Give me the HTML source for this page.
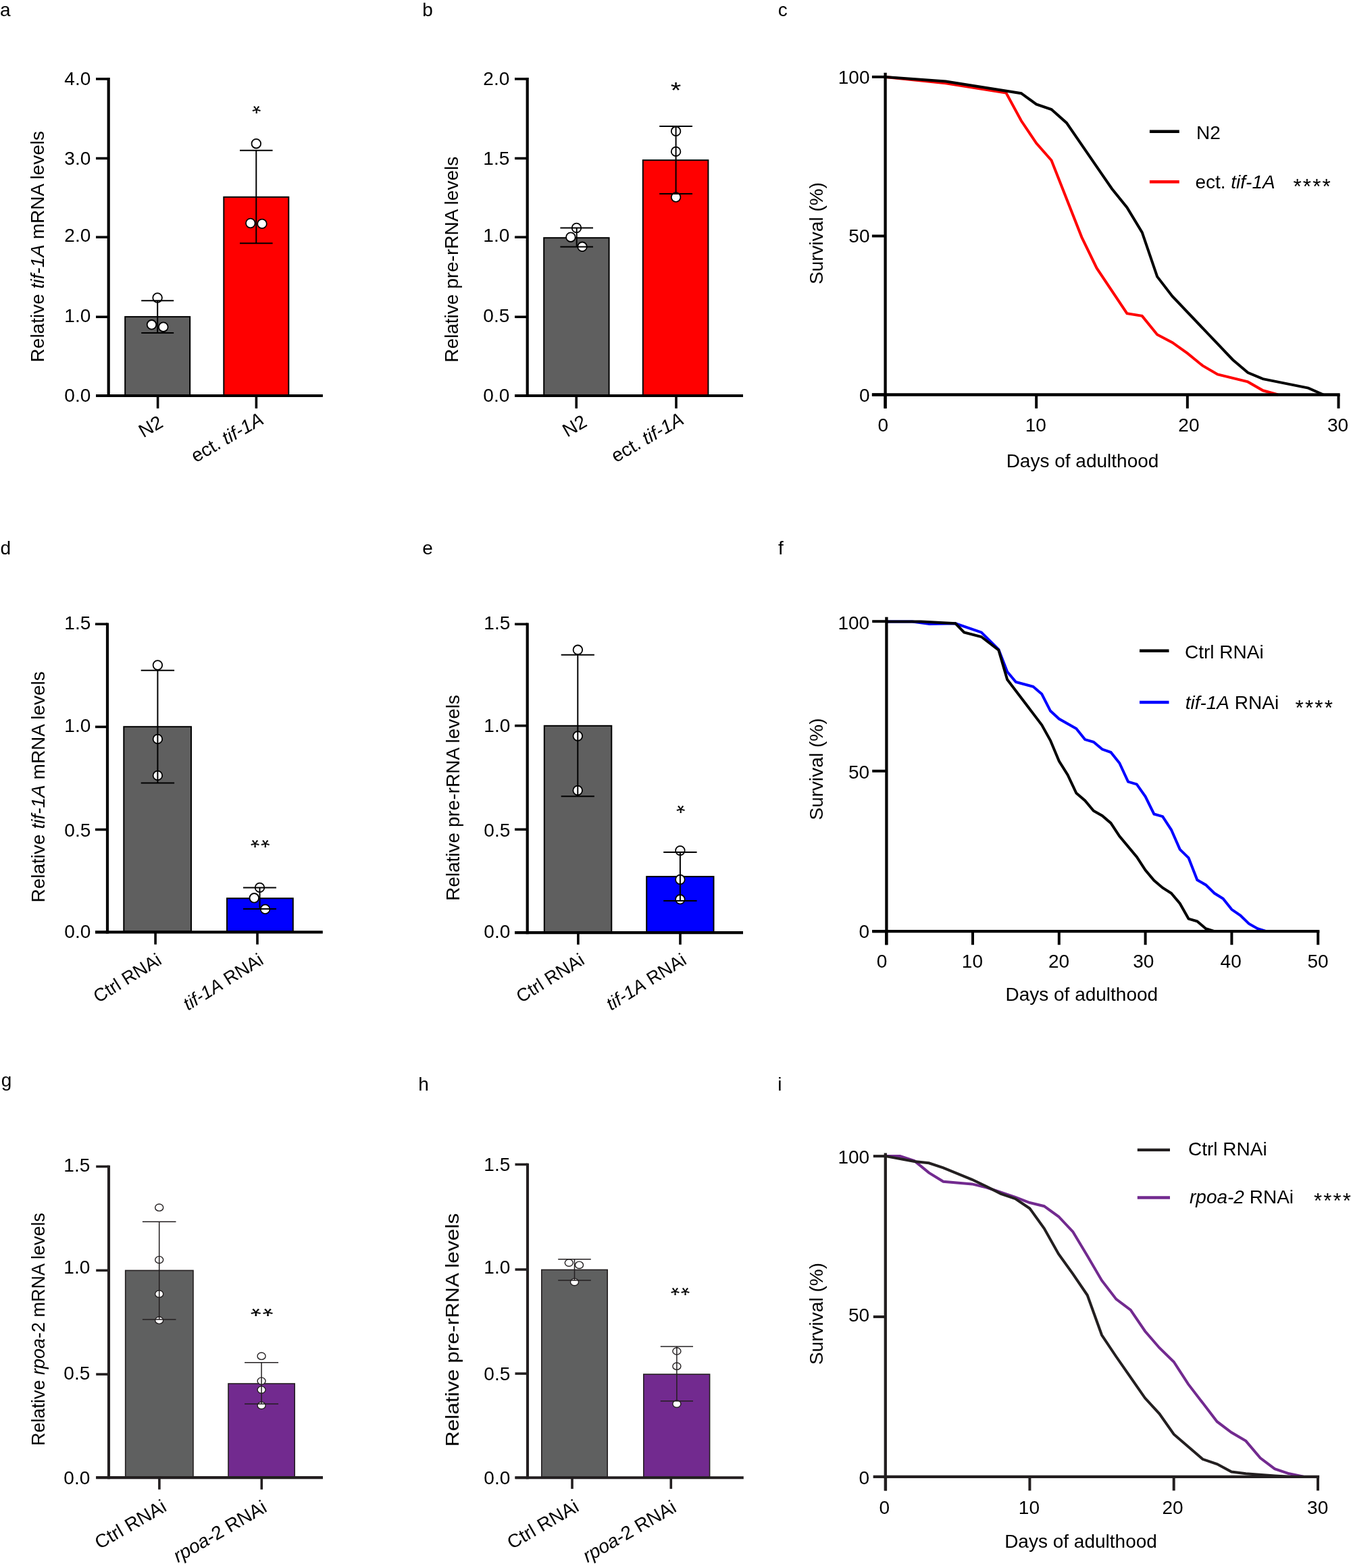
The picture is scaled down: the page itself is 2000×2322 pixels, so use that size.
<!DOCTYPE html>
<html><head><meta charset="utf-8"><title>Figure</title>
<style>
html,body{margin:0;padding:0;background:#fff;}
body{width:2000px;height:2322px;overflow:hidden;}
svg{display:block;}
</style></head><body>
<svg xmlns="http://www.w3.org/2000/svg" width="2000" height="2322" viewBox="0 0 2000 2322" font-family='"Liberation Sans", Arial, Helvetica, sans-serif'>
<rect width="2000" height="2322" fill="#fff"/>
<text x="0" y="24.3" font-size="28" fill="#000">a</text>
<text x="625.3" y="24.3" font-size="28" fill="#000">b</text>
<text x="1151.8" y="24.3" font-size="28" fill="#000">c</text>
<text x="0.4" y="821" font-size="28" fill="#000">d</text>
<text x="625.3" y="821" font-size="28" fill="#000">e</text>
<text x="1152" y="821" font-size="28" fill="#000">f</text>
<text x="1.8" y="1609" font-size="28" fill="#000">g</text>
<text x="619.2" y="1615" font-size="28" fill="#000">h</text>
<text x="1151.2" y="1615" font-size="28" fill="#000">i</text>
<line x1="142" y1="116.9" x2="160.7" y2="116.9" stroke="#000" stroke-width="3.6" stroke-linecap="butt"/>
<text x="134.3" y="125.5" font-size="28" text-anchor="end" fill="#000">4.0</text>
<line x1="142" y1="234.5" x2="160.7" y2="234.5" stroke="#000" stroke-width="3.6" stroke-linecap="butt"/>
<text x="134.3" y="243.5" font-size="28" text-anchor="end" fill="#000">3.0</text>
<line x1="142" y1="351.2" x2="160.7" y2="351.2" stroke="#000" stroke-width="3.6" stroke-linecap="butt"/>
<text x="134.3" y="358.4" font-size="28" text-anchor="end" fill="#000">2.0</text>
<line x1="142" y1="469.3" x2="160.7" y2="469.3" stroke="#000" stroke-width="3.6" stroke-linecap="butt"/>
<text x="134.3" y="477.4" font-size="28" text-anchor="end" fill="#000">1.0</text>
<line x1="142" y1="586" x2="160.7" y2="586" stroke="#000" stroke-width="3.6" stroke-linecap="butt"/>
<text x="134.3" y="595.2" font-size="28" text-anchor="end" fill="#000">0.0</text>
<rect x="185.2" y="469.1" width="96" height="115.9" fill="#5f5f5f" stroke="#000" stroke-width="2"/>
<rect x="331.3" y="291.8" width="96" height="293.2" fill="#ff0000" stroke="#000" stroke-width="2"/>
<circle cx="233.1" cy="441" r="6.8" fill="#fff" stroke="#000" stroke-width="1.8"/>
<circle cx="224.5" cy="480.8" r="6.8" fill="#fff" stroke="#000" stroke-width="1.8"/>
<circle cx="241.8" cy="484.2" r="6.8" fill="#fff" stroke="#000" stroke-width="1.8"/>
<circle cx="379.3" cy="212.7" r="6.8" fill="#fff" stroke="#000" stroke-width="1.8"/>
<circle cx="370.8" cy="330.5" r="6.8" fill="#fff" stroke="#000" stroke-width="1.8"/>
<circle cx="388" cy="331.4" r="6.8" fill="#fff" stroke="#000" stroke-width="1.8"/>
<line x1="233.2" y1="445.2" x2="233.2" y2="493" stroke="#000" stroke-width="2" stroke-linecap="butt"/>
<line x1="209.2" y1="445.2" x2="257.2" y2="445.2" stroke="#000" stroke-width="2" stroke-linecap="butt"/>
<line x1="209.2" y1="493" x2="257.2" y2="493" stroke="#000" stroke-width="2" stroke-linecap="butt"/>
<line x1="379.3" y1="222.8" x2="379.3" y2="360.2" stroke="#000" stroke-width="2" stroke-linecap="butt"/>
<line x1="355" y1="222.8" x2="403.6" y2="222.8" stroke="#000" stroke-width="2" stroke-linecap="butt"/>
<line x1="355" y1="360.2" x2="403.6" y2="360.2" stroke="#000" stroke-width="2" stroke-linecap="butt"/>
<line x1="160.7" y1="115.1" x2="160.7" y2="588.1" stroke="#000" stroke-width="4.2" stroke-linecap="butt"/>
<line x1="142" y1="586" x2="477.9" y2="586" stroke="#000" stroke-width="4.2" stroke-linecap="butt"/>
<line x1="233.6" y1="586" x2="233.6" y2="604.8" stroke="#000" stroke-width="3.6" stroke-linecap="butt"/>
<line x1="379.4" y1="586" x2="379.4" y2="604.8" stroke="#000" stroke-width="3.6" stroke-linecap="butt"/>
<text transform="translate(379.8 162.1) scale(1.1114 -1.0017)" x="0" y="15.89" font-size="31" text-anchor="middle" fill="#000">*</text>
<text transform="translate(243.2 630.9) rotate(-30)" x="0" y="0" font-size="28" text-anchor="end" fill="#000">N2</text>
<text transform="translate(392.2 626.3) rotate(-30)" x="0" y="0" font-size="28" text-anchor="end" fill="#000">ect. <tspan font-style="italic">tif-1A</tspan></text>
<text transform="translate(65.2 536.4) rotate(-90)" x="0" y="0" font-size="28" text-anchor="start" fill="#000">Relative <tspan font-style="italic">tif-1A</tspan> mRNA levels</text>
<line x1="762" y1="116.9" x2="780.7" y2="116.9" stroke="#000" stroke-width="3.6" stroke-linecap="butt"/>
<text x="754.3" y="125.5" font-size="28" text-anchor="end" fill="#000">2.0</text>
<line x1="762" y1="234.5" x2="780.7" y2="234.5" stroke="#000" stroke-width="3.6" stroke-linecap="butt"/>
<text x="754.3" y="243.5" font-size="28" text-anchor="end" fill="#000">1.5</text>
<line x1="762" y1="351.2" x2="780.7" y2="351.2" stroke="#000" stroke-width="3.6" stroke-linecap="butt"/>
<text x="754.3" y="358.4" font-size="28" text-anchor="end" fill="#000">1.0</text>
<line x1="762" y1="469.3" x2="780.7" y2="469.3" stroke="#000" stroke-width="3.6" stroke-linecap="butt"/>
<text x="754.3" y="477.4" font-size="28" text-anchor="end" fill="#000">0.5</text>
<line x1="762" y1="586" x2="780.7" y2="586" stroke="#000" stroke-width="3.6" stroke-linecap="butt"/>
<text x="754.3" y="595.2" font-size="28" text-anchor="end" fill="#000">0.0</text>
<rect x="805.2" y="352.2" width="96.4" height="232.8" fill="#5f5f5f" stroke="#000" stroke-width="2"/>
<rect x="951.8" y="237.2" width="96.6" height="347.8" fill="#ff0000" stroke="#000" stroke-width="2"/>
<circle cx="853.5" cy="337.5" r="6.8" fill="#fff" stroke="#000" stroke-width="1.8"/>
<circle cx="844.9" cy="351.2" r="6.8" fill="#fff" stroke="#000" stroke-width="1.8"/>
<circle cx="862" cy="365.3" r="6.8" fill="#fff" stroke="#000" stroke-width="1.8"/>
<circle cx="1000.6" cy="194.3" r="6.8" fill="#fff" stroke="#000" stroke-width="1.8"/>
<circle cx="1000.6" cy="224.4" r="6.8" fill="#fff" stroke="#000" stroke-width="1.8"/>
<circle cx="1000.6" cy="292" r="6.8" fill="#fff" stroke="#000" stroke-width="1.8"/>
<line x1="853.7" y1="337.6" x2="853.7" y2="365.5" stroke="#000" stroke-width="2" stroke-linecap="butt"/>
<line x1="829.4" y1="337.6" x2="878" y2="337.6" stroke="#000" stroke-width="2" stroke-linecap="butt"/>
<line x1="829.4" y1="365.5" x2="878" y2="365.5" stroke="#000" stroke-width="2" stroke-linecap="butt"/>
<line x1="1000.6" y1="187" x2="1000.6" y2="286.9" stroke="#000" stroke-width="2" stroke-linecap="butt"/>
<line x1="976.2" y1="187" x2="1025" y2="187" stroke="#000" stroke-width="2" stroke-linecap="butt"/>
<line x1="976.2" y1="286.9" x2="1025" y2="286.9" stroke="#000" stroke-width="2" stroke-linecap="butt"/>
<line x1="780.7" y1="115.1" x2="780.7" y2="588.1" stroke="#000" stroke-width="4.2" stroke-linecap="butt"/>
<line x1="762" y1="586" x2="1100" y2="586" stroke="#000" stroke-width="4.2" stroke-linecap="butt"/>
<line x1="853.2" y1="586" x2="853.2" y2="604.8" stroke="#000" stroke-width="3.6" stroke-linecap="butt"/>
<line x1="1001" y1="586" x2="1001" y2="604.8" stroke="#000" stroke-width="3.6" stroke-linecap="butt"/>
<text transform="translate(1000.5 128.2) scale(1.2921 1.0661)" x="0" y="15.89" font-size="31" text-anchor="middle" fill="#000">*</text>
<text transform="translate(870.8 630) rotate(-30)" x="0" y="0" font-size="28" text-anchor="end" fill="#000">N2</text>
<text transform="translate(1014.2 626.3) rotate(-30)" x="0" y="0" font-size="28" text-anchor="end" fill="#000">ect. <tspan font-style="italic">tif-1A</tspan></text>
<text transform="translate(678.2 536.8) rotate(-90)" x="0" y="0" font-size="28" text-anchor="start" fill="#000">Relative pre-rRNA levels</text>
<line x1="141" y1="924.2" x2="159" y2="924.2" stroke="#000" stroke-width="3.6" stroke-linecap="butt"/>
<text x="134.3" y="931.9" font-size="28" text-anchor="end" fill="#000">1.5</text>
<line x1="141" y1="1076.4" x2="159" y2="1076.4" stroke="#000" stroke-width="3.6" stroke-linecap="butt"/>
<text x="134.3" y="1083.5" font-size="28" text-anchor="end" fill="#000">1.0</text>
<line x1="141" y1="1228.5" x2="159" y2="1228.5" stroke="#000" stroke-width="3.6" stroke-linecap="butt"/>
<text x="134.3" y="1238.7" font-size="28" text-anchor="end" fill="#000">0.5</text>
<line x1="141" y1="1380.4" x2="159" y2="1380.4" stroke="#000" stroke-width="3.6" stroke-linecap="butt"/>
<text x="134.3" y="1389.2" font-size="28" text-anchor="end" fill="#000">0.0</text>
<rect x="183.3" y="1076.2" width="99.7" height="303.2" fill="#5f5f5f" stroke="#000" stroke-width="2"/>
<rect x="336" y="1330.3" width="97.8" height="49.1" fill="#0000ff" stroke="#000" stroke-width="2"/>
<circle cx="233.4" cy="985" r="6.8" fill="#fff" stroke="#000" stroke-width="1.8"/>
<circle cx="233.4" cy="1094.4" r="6.8" fill="#fff" stroke="#000" stroke-width="1.8"/>
<circle cx="233.4" cy="1148.4" r="6.8" fill="#fff" stroke="#000" stroke-width="1.8"/>
<circle cx="384.5" cy="1314.4" r="6.8" fill="#fff" stroke="#000" stroke-width="1.8"/>
<circle cx="376.3" cy="1329.8" r="6.8" fill="#fff" stroke="#000" stroke-width="1.8"/>
<circle cx="392.6" cy="1346.4" r="6.8" fill="#fff" stroke="#000" stroke-width="1.8"/>
<line x1="233.4" y1="992.8" x2="233.4" y2="1159.6" stroke="#000" stroke-width="2" stroke-linecap="butt"/>
<line x1="208.7" y1="992.8" x2="258.1" y2="992.8" stroke="#000" stroke-width="2" stroke-linecap="butt"/>
<line x1="208.7" y1="1159.6" x2="258.1" y2="1159.6" stroke="#000" stroke-width="2" stroke-linecap="butt"/>
<line x1="384.5" y1="1314.6" x2="384.5" y2="1346" stroke="#000" stroke-width="2" stroke-linecap="butt"/>
<line x1="360" y1="1314.6" x2="409" y2="1314.6" stroke="#000" stroke-width="2" stroke-linecap="butt"/>
<line x1="360" y1="1346" x2="409" y2="1346" stroke="#000" stroke-width="2" stroke-linecap="butt"/>
<line x1="159" y1="922.4" x2="159" y2="1382.5" stroke="#000" stroke-width="4.2" stroke-linecap="butt"/>
<line x1="141" y1="1380.4" x2="477.8" y2="1380.4" stroke="#000" stroke-width="4.2" stroke-linecap="butt"/>
<line x1="230.1" y1="1380.4" x2="230.1" y2="1398.6" stroke="#000" stroke-width="3.6" stroke-linecap="butt"/>
<line x1="381" y1="1380.4" x2="381" y2="1398.6" stroke="#000" stroke-width="3.6" stroke-linecap="butt"/>
<text transform="translate(385.2 1249.3) scale(1.1295 -1.0109)" x="-6.8 6.8" y="15.89" font-size="31" text-anchor="middle" fill="#000">**</text>
<text transform="translate(241 1426.2) rotate(-32)" x="0" y="0" font-size="27" text-anchor="end" fill="#000">Ctrl RNAi</text>
<text transform="translate(391.8 1426.2) rotate(-32)" x="0" y="0" font-size="27" text-anchor="end" fill="#000"><tspan font-style="italic">tif-1A</tspan> RNAi</text>
<text transform="translate(65.5 1336.5) rotate(-90)" x="0" y="0" font-size="28" text-anchor="start" fill="#000">Relative <tspan font-style="italic">tif-1A</tspan> mRNA levels</text>
<line x1="762" y1="924.3" x2="780.7" y2="924.3" stroke="#000" stroke-width="3.6" stroke-linecap="butt"/>
<text x="755.3" y="932.4" font-size="28" text-anchor="end" fill="#000">1.5</text>
<line x1="762" y1="1074.7" x2="780.7" y2="1074.7" stroke="#000" stroke-width="3.6" stroke-linecap="butt"/>
<text x="755.3" y="1083.5" font-size="28" text-anchor="end" fill="#000">1.0</text>
<line x1="762" y1="1228.3" x2="780.7" y2="1228.3" stroke="#000" stroke-width="3.6" stroke-linecap="butt"/>
<text x="755.3" y="1238.7" font-size="28" text-anchor="end" fill="#000">0.5</text>
<line x1="762" y1="1381.1" x2="780.7" y2="1381.1" stroke="#000" stroke-width="3.6" stroke-linecap="butt"/>
<text x="755.3" y="1389.3" font-size="28" text-anchor="end" fill="#000">0.0</text>
<rect x="805.8" y="1074.8" width="99.5" height="305.3" fill="#5f5f5f" stroke="#000" stroke-width="2"/>
<rect x="957.2" y="1298.1" width="99.3" height="82" fill="#0000ff" stroke="#000" stroke-width="2"/>
<circle cx="855.4" cy="962.3" r="6.8" fill="#fff" stroke="#000" stroke-width="1.8"/>
<circle cx="855.3" cy="1090" r="6.8" fill="#fff" stroke="#000" stroke-width="1.8"/>
<circle cx="855.2" cy="1170.5" r="6.8" fill="#fff" stroke="#000" stroke-width="1.8"/>
<circle cx="1006.9" cy="1259.6" r="6.8" fill="#fff" stroke="#000" stroke-width="1.8"/>
<circle cx="1006.9" cy="1302.5" r="6.8" fill="#fff" stroke="#000" stroke-width="1.8"/>
<circle cx="1006.9" cy="1331.8" r="6.8" fill="#fff" stroke="#000" stroke-width="1.8"/>
<line x1="855.3" y1="969.7" x2="855.3" y2="1179.2" stroke="#000" stroke-width="2" stroke-linecap="butt"/>
<line x1="830.7" y1="969.7" x2="879.9" y2="969.7" stroke="#000" stroke-width="2" stroke-linecap="butt"/>
<line x1="830.7" y1="1179.2" x2="879.9" y2="1179.2" stroke="#000" stroke-width="2" stroke-linecap="butt"/>
<line x1="1006.9" y1="1261.9" x2="1006.9" y2="1333.9" stroke="#000" stroke-width="2" stroke-linecap="butt"/>
<line x1="982.2" y1="1261.9" x2="1031.6" y2="1261.9" stroke="#000" stroke-width="2" stroke-linecap="butt"/>
<line x1="982.2" y1="1333.9" x2="1031.6" y2="1333.9" stroke="#000" stroke-width="2" stroke-linecap="butt"/>
<line x1="780.7" y1="922.5" x2="780.7" y2="1383.2" stroke="#000" stroke-width="4.2" stroke-linecap="butt"/>
<line x1="762" y1="1381.1" x2="1100" y2="1381.1" stroke="#000" stroke-width="4.2" stroke-linecap="butt"/>
<line x1="855.9" y1="1381.1" x2="855.9" y2="1398.8" stroke="#000" stroke-width="3.6" stroke-linecap="butt"/>
<line x1="1007" y1="1381.1" x2="1007" y2="1398.8" stroke="#000" stroke-width="3.6" stroke-linecap="butt"/>
<text transform="translate(1007.6 1197.7) scale(1.1114 -1.0017)" x="0" y="15.89" font-size="31" text-anchor="middle" fill="#000">*</text>
<text transform="translate(867 1426.2) rotate(-32)" x="0" y="0" font-size="27" text-anchor="end" fill="#000">Ctrl RNAi</text>
<text transform="translate(1018 1426.2) rotate(-32)" x="0" y="0" font-size="27" text-anchor="end" fill="#000"><tspan font-style="italic">tif-1A</tspan> RNAi</text>
<text transform="translate(680 1334) rotate(-90)" x="0" y="0" font-size="28" text-anchor="start" fill="#000">Relative pre-rRNA levels</text>
<line x1="142.2" y1="1727.5" x2="161" y2="1727.5" stroke="#231f20" stroke-width="3.6" stroke-linecap="butt"/>
<text x="133.3" y="1734.5" font-size="28" text-anchor="end" fill="#000">1.5</text>
<line x1="142.2" y1="1881.3" x2="161" y2="1881.3" stroke="#231f20" stroke-width="3.6" stroke-linecap="butt"/>
<text x="133.3" y="1886.4" font-size="28" text-anchor="end" fill="#000">1.0</text>
<line x1="142.2" y1="2035.1" x2="161" y2="2035.1" stroke="#231f20" stroke-width="3.6" stroke-linecap="butt"/>
<text x="133.3" y="2043.4" font-size="28" text-anchor="end" fill="#000">0.5</text>
<line x1="142.2" y1="2188.1" x2="161" y2="2188.1" stroke="#231f20" stroke-width="3.6" stroke-linecap="butt"/>
<text x="133.3" y="2198.4" font-size="28" text-anchor="end" fill="#000">0.0</text>
<rect x="185.7" y="1881.4" width="100.3" height="305.9" fill="#5f6060" stroke="#231f20" stroke-width="1.6"/>
<rect x="338" y="2049" width="98.2" height="138.3" fill="#722a8f" stroke="#231f20" stroke-width="1.6"/>
<ellipse cx="235.7" cy="1788.2" rx="6" ry="5.2" fill="#fff" stroke="#231f20" stroke-width="1.4"/>
<ellipse cx="235.7" cy="1865.6" rx="6" ry="5.2" fill="#fff" stroke="#231f20" stroke-width="1.4"/>
<ellipse cx="235.7" cy="1916.2" rx="6" ry="5.2" fill="#fff" stroke="#231f20" stroke-width="1.4"/>
<ellipse cx="235.7" cy="1955.2" rx="6" ry="5.2" fill="#fff" stroke="#231f20" stroke-width="1.4"/>
<ellipse cx="387.1" cy="2008.2" rx="6" ry="5.2" fill="#fff" stroke="#231f20" stroke-width="1.4"/>
<ellipse cx="387.1" cy="2045.1" rx="6" ry="5.2" fill="#fff" stroke="#231f20" stroke-width="1.4"/>
<ellipse cx="387.1" cy="2058.1" rx="6" ry="5.2" fill="#fff" stroke="#231f20" stroke-width="1.4"/>
<ellipse cx="387.1" cy="2081.3" rx="6" ry="5.2" fill="#fff" stroke="#231f20" stroke-width="1.4"/>
<line x1="235.7" y1="1809.2" x2="235.7" y2="1953.9" stroke="#231f20" stroke-width="1.5" stroke-linecap="butt"/>
<line x1="210.9" y1="1809.2" x2="260.5" y2="1809.2" stroke="#231f20" stroke-width="1.5" stroke-linecap="butt"/>
<line x1="210.9" y1="1953.9" x2="260.5" y2="1953.9" stroke="#231f20" stroke-width="1.5" stroke-linecap="butt"/>
<line x1="387.1" y1="2017.7" x2="387.1" y2="2079" stroke="#231f20" stroke-width="1.5" stroke-linecap="butt"/>
<line x1="362.1" y1="2017.7" x2="412.1" y2="2017.7" stroke="#231f20" stroke-width="1.5" stroke-linecap="butt"/>
<line x1="362.1" y1="2079" x2="412.1" y2="2079" stroke="#231f20" stroke-width="1.5" stroke-linecap="butt"/>
<line x1="161" y1="1725.75" x2="161" y2="2190.15" stroke="#231f20" stroke-width="4.1" stroke-linecap="butt"/>
<line x1="142.2" y1="2188.1" x2="478" y2="2188.1" stroke="#231f20" stroke-width="4.1" stroke-linecap="butt"/>
<line x1="235.9" y1="2188.1" x2="235.9" y2="2205.7" stroke="#231f20" stroke-width="3.6" stroke-linecap="butt"/>
<line x1="387.3" y1="2188.1" x2="387.3" y2="2205.7" stroke="#231f20" stroke-width="3.6" stroke-linecap="butt"/>
<text transform="translate(387.6 1942.6) scale(1.3283 -1.0017)" x="-6.74 6.74" y="15.89" font-size="31" text-anchor="middle" fill="#000">**</text>
<text transform="translate(248.3 2236.5) rotate(-30)" x="0" y="0" font-size="28" text-anchor="end" fill="#000">Ctrl RNAi</text>
<text transform="translate(396.9 2237.5) rotate(-30)" x="0" y="0" font-size="28" text-anchor="end" fill="#000"><tspan font-style="italic">rpoa</tspan>-2 RNAi</text>
<text transform="translate(65.8 2141) rotate(-90)" x="0" y="0" font-size="28" text-anchor="start" textLength="345" lengthAdjust="spacingAndGlyphs" fill="#000">Relative <tspan font-style="italic">rpoa</tspan>-2 mRNA levels</text>
<line x1="762.5" y1="1724.4" x2="781" y2="1724.4" stroke="#231f20" stroke-width="3.6" stroke-linecap="butt"/>
<text x="755.3" y="1734.3" font-size="28" text-anchor="end" fill="#000">1.5</text>
<line x1="762.5" y1="1880" x2="781" y2="1880" stroke="#231f20" stroke-width="3.6" stroke-linecap="butt"/>
<text x="755.3" y="1886.4" font-size="28" text-anchor="end" fill="#000">1.0</text>
<line x1="762.5" y1="2034.1" x2="781" y2="2034.1" stroke="#231f20" stroke-width="3.6" stroke-linecap="butt"/>
<text x="755.3" y="2043.6" font-size="28" text-anchor="end" fill="#000">0.5</text>
<line x1="762.5" y1="2188.3" x2="781" y2="2188.3" stroke="#231f20" stroke-width="3.6" stroke-linecap="butt"/>
<text x="755.3" y="2197.8" font-size="28" text-anchor="end" fill="#000">0.0</text>
<rect x="801.8" y="1880.4" width="97.4" height="307.1" fill="#5f6060" stroke="#231f20" stroke-width="1.6"/>
<rect x="952.8" y="2035.1" width="97.8" height="152.4" fill="#722a8f" stroke="#231f20" stroke-width="1.6"/>
<ellipse cx="842.3" cy="1870.1" rx="6" ry="5.2" fill="#fff" stroke="#231f20" stroke-width="1.4"/>
<ellipse cx="857.5" cy="1873.3" rx="6" ry="5.2" fill="#fff" stroke="#231f20" stroke-width="1.4"/>
<ellipse cx="850.5" cy="1898.5" rx="6" ry="5.2" fill="#fff" stroke="#231f20" stroke-width="1.4"/>
<ellipse cx="1001.9" cy="2000.9" rx="6" ry="5.2" fill="#fff" stroke="#231f20" stroke-width="1.4"/>
<ellipse cx="1001.9" cy="2023.2" rx="6" ry="5.2" fill="#fff" stroke="#231f20" stroke-width="1.4"/>
<ellipse cx="1001.9" cy="2079" rx="6" ry="5.2" fill="#fff" stroke="#231f20" stroke-width="1.4"/>
<line x1="850.5" y1="1864.8" x2="850.5" y2="1896" stroke="#231f20" stroke-width="1.5" stroke-linecap="butt"/>
<line x1="826.2" y1="1864.8" x2="874.8" y2="1864.8" stroke="#231f20" stroke-width="1.5" stroke-linecap="butt"/>
<line x1="826.2" y1="1896" x2="874.8" y2="1896" stroke="#231f20" stroke-width="1.5" stroke-linecap="butt"/>
<line x1="1001.9" y1="1993.9" x2="1001.9" y2="2074.7" stroke="#231f20" stroke-width="1.5" stroke-linecap="butt"/>
<line x1="977.8" y1="1993.9" x2="1026" y2="1993.9" stroke="#231f20" stroke-width="1.5" stroke-linecap="butt"/>
<line x1="977.8" y1="2074.7" x2="1026" y2="2074.7" stroke="#231f20" stroke-width="1.5" stroke-linecap="butt"/>
<line x1="781" y1="1722.65" x2="781" y2="2190.35" stroke="#231f20" stroke-width="4.1" stroke-linecap="butt"/>
<line x1="762.5" y1="2188.3" x2="1100.8" y2="2188.3" stroke="#231f20" stroke-width="4.1" stroke-linecap="butt"/>
<line x1="847" y1="2188.3" x2="847" y2="2204.8" stroke="#231f20" stroke-width="3.6" stroke-linecap="butt"/>
<line x1="993.3" y1="2188.3" x2="993.3" y2="2204.8" stroke="#231f20" stroke-width="3.6" stroke-linecap="butt"/>
<text transform="translate(1007 1912.1) scale(1.1204 -1.0293)" x="-6.65 6.65" y="15.89" font-size="31" text-anchor="middle" fill="#000">**</text>
<text transform="translate(858.8 2236.5) rotate(-30)" x="0" y="0" font-size="28" text-anchor="end" fill="#000">Ctrl RNAi</text>
<text transform="translate(1003.1 2237.5) rotate(-30)" x="0" y="0" font-size="28" text-anchor="end" fill="#000"><tspan font-style="italic">rpoa</tspan>-2 RNAi</text>
<text transform="translate(678.8 2142.2) rotate(-90)" x="0" y="0" font-size="28" text-anchor="start" textLength="345.5" lengthAdjust="spacingAndGlyphs" fill="#000">Relative pre-rRNA levels</text>
<polyline points="1310.5,113.9 1399.97,123.3 1489.44,137.6 1511.8,178.8 1534.17,212 1556.54,237.5 1601.27,351.1 1623.64,397.2 1668.37,464.2 1690.74,467.9 1713.11,495.5 1735.47,507.2 1757.84,523.2 1780.21,541.4 1802.57,554.4 1847.31,565.4 1869.68,578.3 1892.04,584.5" fill="none" stroke="#ff0000" stroke-width="4" stroke-linejoin="miter" stroke-miterlimit="4"/>
<polyline points="1310.5,113.9 1399.97,120.4 1511.8,138.2 1534.17,154.4 1556.54,162 1578.9,181.9 1646.01,279.5 1668.37,307.2 1690.74,344.2 1713.11,409.6 1735.47,438.7 1824.94,532.7 1847.31,551.8 1869.68,561.1 1936.78,574.6 1959.14,584.5" fill="none" stroke="#000" stroke-width="4" stroke-linejoin="miter" stroke-miterlimit="4"/>
<line x1="1290.9" y1="113.9" x2="1310.6" y2="113.9" stroke="#000" stroke-width="4" stroke-linecap="butt"/>
<text x="1287.5" y="124.1" font-size="28" text-anchor="end" fill="#000">100</text>
<line x1="1290.9" y1="349.5" x2="1310.6" y2="349.5" stroke="#000" stroke-width="4" stroke-linecap="butt"/>
<text x="1287.5" y="359" font-size="28" text-anchor="end" fill="#000">50</text>
<line x1="1290.9" y1="584.5" x2="1310.6" y2="584.5" stroke="#000" stroke-width="4" stroke-linecap="butt"/>
<text x="1287.5" y="594.5" font-size="28" text-anchor="end" fill="#000">0</text>
<line x1="1310.5" y1="584.5" x2="1310.5" y2="604.8" stroke="#000" stroke-width="4" stroke-linecap="butt"/>
<text x="1307.2" y="638.6" font-size="28" text-anchor="middle" fill="#000">0</text>
<line x1="1534.17" y1="584.5" x2="1534.17" y2="604.8" stroke="#000" stroke-width="4" stroke-linecap="butt"/>
<text x="1533.3" y="638.6" font-size="28" text-anchor="middle" fill="#000">10</text>
<line x1="1757.84" y1="584.5" x2="1757.84" y2="604.8" stroke="#000" stroke-width="4" stroke-linecap="butt"/>
<text x="1759.9" y="638.6" font-size="28" text-anchor="middle" fill="#000">20</text>
<line x1="1981.51" y1="584.5" x2="1981.51" y2="604.8" stroke="#000" stroke-width="4" stroke-linecap="butt"/>
<text x="1980.5" y="638.6" font-size="28" text-anchor="middle" fill="#000">30</text>
<line x1="1310.6" y1="107.7" x2="1310.6" y2="604.8" stroke="#000" stroke-width="4.3" stroke-linecap="butt"/>
<line x1="1290.9" y1="584.5" x2="1983.66" y2="584.5" stroke="#000" stroke-width="4.3" stroke-linecap="butt"/>
<line x1="1701.9" y1="194.8" x2="1745.8" y2="194.8" stroke="#000" stroke-width="4.4" stroke-linecap="butt"/>
<text x="1771.1" y="205.9" font-size="28" fill="#000">N2</text>
<line x1="1701.9" y1="269.2" x2="1745.8" y2="269.2" stroke="#ff0000" stroke-width="4.4" stroke-linecap="butt"/>
<text x="1769.4" y="278.5" font-size="28" fill="#000">ect. <tspan font-style="italic">tif-1A</tspan></text>
<text transform="translate(1942.1 270.6) scale(1.0120 1.0109)" x="-21.34 -7.11 7.11 21.34" y="15.89" font-size="31" text-anchor="middle" fill="#000">****</text>
<text x="1602.5" y="692.4" font-size="28" text-anchor="middle" fill="#000">Days of adulthood</text>
<text transform="translate(1217.9 345.5) rotate(-90)" x="0" y="0" font-size="28" text-anchor="middle" fill="#000">Survival (%)</text>
<polyline points="1312.2,920.4 1350.54,920.4 1376.1,924 1414.44,923.3 1452.78,936.4 1478.34,961.9 1491.12,994.7 1503.9,1010 1529.46,1016.8 1542.24,1027.8 1555.02,1052.8 1567.8,1064.5 1593.36,1079.1 1606.14,1095.1 1618.92,1098.7 1631.7,1109.6 1644.48,1114 1657.26,1130 1670.04,1157.7 1682.82,1161.4 1695.6,1179.6 1708.38,1205.5 1721.16,1209.1 1733.94,1228.8 1746.72,1257.9 1759.5,1270.3 1772.28,1303.1 1785.06,1310.4 1797.84,1322.8 1810.62,1330.8 1823.4,1346.8 1836.18,1355.5 1848.96,1367.9 1861.74,1375.2 1874.52,1379.2" fill="none" stroke="#0000ff" stroke-width="4" stroke-linejoin="miter" stroke-miterlimit="4"/>
<polyline points="1312.2,920.4 1363.32,920.4 1414.44,923.3 1427.22,936.4 1452.78,943 1478.34,962.6 1491.12,1006.3 1542.24,1073.5 1555.02,1096.5 1567.8,1127.1 1580.58,1147.5 1593.36,1174.5 1606.14,1185.4 1618.92,1200.7 1631.7,1208 1644.48,1218.9 1657.26,1238.4 1682.82,1268.9 1695.6,1288.5 1708.38,1303.8 1721.16,1314.7 1733.94,1322.8 1746.72,1338 1759.5,1360.6 1772.28,1364.3 1785.06,1375.2 1797.84,1379.2" fill="none" stroke="#000" stroke-width="4" stroke-linejoin="miter" stroke-miterlimit="4"/>
<line x1="1291.2" y1="920.2" x2="1312.4" y2="920.2" stroke="#000" stroke-width="4" stroke-linecap="butt"/>
<text x="1287.2" y="932.2" font-size="28" text-anchor="end" fill="#000">100</text>
<line x1="1291.2" y1="1141.8" x2="1312.4" y2="1141.8" stroke="#000" stroke-width="4" stroke-linecap="butt"/>
<text x="1287.2" y="1152.7" font-size="28" text-anchor="end" fill="#000">50</text>
<line x1="1291.2" y1="1379.2" x2="1312.4" y2="1379.2" stroke="#000" stroke-width="4" stroke-linecap="butt"/>
<text x="1287.2" y="1389.2" font-size="28" text-anchor="end" fill="#000">0</text>
<line x1="1312.2" y1="1379.2" x2="1312.2" y2="1399.2" stroke="#000" stroke-width="4" stroke-linecap="butt"/>
<text x="1305.6" y="1432.5" font-size="28" text-anchor="middle" fill="#000">0</text>
<line x1="1440" y1="1379.2" x2="1440" y2="1399.2" stroke="#000" stroke-width="4" stroke-linecap="butt"/>
<text x="1439.4" y="1432.5" font-size="28" text-anchor="middle" fill="#000">10</text>
<line x1="1567.8" y1="1379.2" x2="1567.8" y2="1399.2" stroke="#000" stroke-width="4" stroke-linecap="butt"/>
<text x="1567.6" y="1432.5" font-size="28" text-anchor="middle" fill="#000">20</text>
<line x1="1695.6" y1="1379.2" x2="1695.6" y2="1399.2" stroke="#000" stroke-width="4" stroke-linecap="butt"/>
<text x="1692.8" y="1432.5" font-size="28" text-anchor="middle" fill="#000">30</text>
<line x1="1823.4" y1="1379.2" x2="1823.4" y2="1399.2" stroke="#000" stroke-width="4" stroke-linecap="butt"/>
<text x="1822.2" y="1432.5" font-size="28" text-anchor="middle" fill="#000">40</text>
<line x1="1951.2" y1="1379.2" x2="1951.2" y2="1399.2" stroke="#000" stroke-width="4" stroke-linecap="butt"/>
<text x="1951.1" y="1432.5" font-size="28" text-anchor="middle" fill="#000">50</text>
<line x1="1312.4" y1="913.8" x2="1312.4" y2="1399.2" stroke="#000" stroke-width="4.3" stroke-linecap="butt"/>
<line x1="1291.2" y1="1379.2" x2="1953.35" y2="1379.2" stroke="#000" stroke-width="4.3" stroke-linecap="butt"/>
<line x1="1687" y1="963.7" x2="1730.5" y2="963.7" stroke="#000" stroke-width="4.4" stroke-linecap="butt"/>
<text x="1754" y="974.9" font-size="28" fill="#000">Ctrl RNAi</text>
<line x1="1687" y1="1040" x2="1730.5" y2="1040" stroke="#0000ff" stroke-width="4.4" stroke-linecap="butt"/>
<text x="1754.7" y="1049.9" font-size="28" fill="#000"><tspan font-style="italic">tif-1A</tspan> RNAi</text>
<text transform="translate(1945.2 1043.4) scale(1.0120 1.0109)" x="-21.34 -7.11 7.11 21.34" y="15.89" font-size="31" text-anchor="middle" fill="#000">****</text>
<text x="1601.3" y="1481.5" font-size="28" text-anchor="middle" fill="#000">Days of adulthood</text>
<text transform="translate(1217.9 1139) rotate(-90)" x="0" y="0" font-size="28" text-anchor="middle" fill="#000">Survival (%)</text>
<polyline points="1311.1,1712.1 1332.43,1712.1 1353.76,1719.1 1375.09,1736.6 1396.42,1749.7 1439.08,1753.4 1460.41,1758.5 1481.74,1765.7 1503.07,1773 1524.4,1781 1545.73,1786.2 1567.06,1801.5 1588.39,1824.1 1609.72,1859.8 1631.05,1896.2 1652.38,1923.9 1673.71,1939.9 1695.04,1971.2 1716.37,1996 1737.7,2016.7 1759.03,2049.6 1801.69,2105.2 1823.02,2121.3 1844.35,2133.9 1865.68,2159 1887.01,2175.1 1908.34,2182.3 1929.67,2186.8" fill="none" stroke="#722a8f" stroke-width="4" stroke-linejoin="miter" stroke-miterlimit="4"/>
<polyline points="1311.1,1712.1 1353.76,1719.9 1375.09,1722.3 1396.42,1729.3 1439.08,1746.8 1460.41,1757 1481.74,1767.9 1503.07,1775.2 1524.4,1789.5 1545.73,1819 1567.06,1856.9 1588.39,1886.7 1609.72,1918 1631.05,1977 1652.38,2009 1695.04,2070.3 1716.37,2093.6 1737.7,2124 1780.36,2160.8 1801.69,2168 1823.02,2179.6 1844.35,2182.3 1887.01,2185.5 1908.34,2186.8" fill="none" stroke="#231f20" stroke-width="4" stroke-linejoin="miter" stroke-miterlimit="4"/>
<line x1="1292.8" y1="1712.1" x2="1310.8" y2="1712.1" stroke="#231f20" stroke-width="4" stroke-linecap="butt"/>
<text x="1287.2" y="1722.5" font-size="28" text-anchor="end" fill="#000">100</text>
<line x1="1292.8" y1="1950" x2="1310.8" y2="1950" stroke="#231f20" stroke-width="4" stroke-linecap="butt"/>
<text x="1287.2" y="1956.7" font-size="28" text-anchor="end" fill="#000">50</text>
<line x1="1292.8" y1="2187" x2="1310.8" y2="2187" stroke="#231f20" stroke-width="4" stroke-linecap="butt"/>
<text x="1287.2" y="2198.3" font-size="28" text-anchor="end" fill="#000">0</text>
<line x1="1311.1" y1="2186.8" x2="1311.1" y2="2207.4" stroke="#231f20" stroke-width="4" stroke-linecap="butt"/>
<text x="1309.3" y="2242.4" font-size="28" text-anchor="middle" fill="#000">0</text>
<line x1="1524.4" y1="2186.8" x2="1524.4" y2="2207.4" stroke="#231f20" stroke-width="4" stroke-linecap="butt"/>
<text x="1523.4" y="2242.4" font-size="28" text-anchor="middle" fill="#000">10</text>
<line x1="1737.7" y1="2186.8" x2="1737.7" y2="2207.4" stroke="#231f20" stroke-width="4" stroke-linecap="butt"/>
<text x="1736" y="2242.4" font-size="28" text-anchor="middle" fill="#000">20</text>
<line x1="1951" y1="2186.8" x2="1951" y2="2207.4" stroke="#231f20" stroke-width="4" stroke-linecap="butt"/>
<text x="1950.7" y="2242.4" font-size="28" text-anchor="middle" fill="#000">30</text>
<line x1="1310.8" y1="1707.5" x2="1310.8" y2="2207.4" stroke="#231f20" stroke-width="4.3" stroke-linecap="butt"/>
<line x1="1292.8" y1="2186.8" x2="1953.15" y2="2186.8" stroke="#231f20" stroke-width="4.3" stroke-linecap="butt"/>
<line x1="1683.8" y1="1702.9" x2="1732" y2="1702.9" stroke="#231f20" stroke-width="4.4" stroke-linecap="butt"/>
<text x="1759" y="1711.4" font-size="28" fill="#000">Ctrl RNAi</text>
<line x1="1683.8" y1="1773.5" x2="1732" y2="1773.5" stroke="#722a8f" stroke-width="4.4" stroke-linecap="butt"/>
<text x="1761" y="1782.4" font-size="28" fill="#000"><tspan font-style="italic">rpoa-2</tspan> RNAi</text>
<text transform="translate(1972.4 1772.9) scale(1.0030 1.0017)" x="-21.39 -7.13 7.13 21.39" y="15.89" font-size="31" text-anchor="middle" fill="#000">****</text>
<text x="1600" y="2291.8" font-size="28" text-anchor="middle" fill="#000">Days of adulthood</text>
<text transform="translate(1217.9 1945.5) rotate(-90)" x="0" y="0" font-size="28" text-anchor="middle" fill="#000">Survival (%)</text>
</svg>
</body></html>
